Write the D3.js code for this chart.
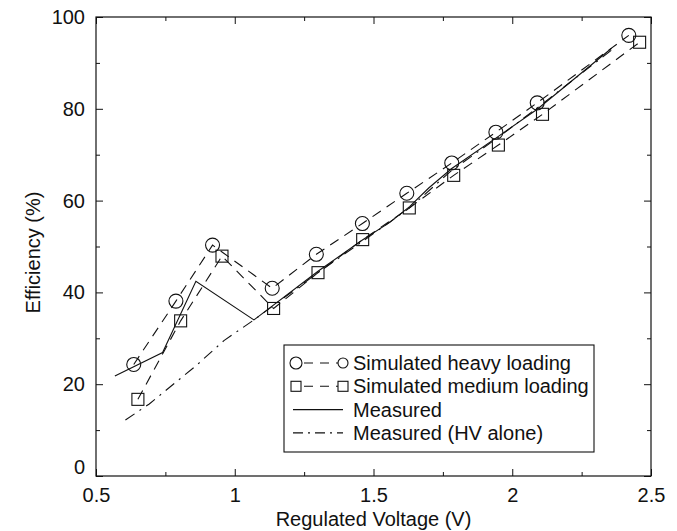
<!DOCTYPE html>
<html lang="en">
  <head>
    <meta charset="UTF-8" />
    <script src="https://d3js.org/d3.v7.min.js"></script>
    <title>Efficiency vs regulated voltage</title>
    <style>
      body { margin: 0; background: #fff; }
      text { font-family: "Liberation Sans", Arial, sans-serif; fill: #111; }
    </style>
  </head>
  <body>
    <div id="my_dataviz"></div>
    <script>
      // data
      var heavyX = [0.636, 0.788, 0.920, 1.135, 1.294, 1.460, 1.620, 1.782, 1.941, 2.090, 2.420]
      var heavyY = [24.3, 38.1, 50.3, 40.9, 48.3, 55.0, 61.6, 68.2, 74.9, 81.3, 96.0]

      var mediumX = [0.651, 0.805, 0.954, 1.140, 1.300, 1.461, 1.629, 1.789, 1.950, 2.109, 2.459]
      var mediumY = [16.7, 33.8, 47.9, 36.5, 44.3, 51.5, 58.4, 65.5, 72.1, 78.8, 94.5]

      var measuredX = [0.568, 0.740, 0.860, 1.069, 1.300, 1.460, 1.560, 1.630, 1.700, 1.782, 1.950, 2.090, 2.358]
      var measuredY = [21.8, 26.9, 42.4, 34.0, 44.6, 51.4, 55.3, 58.7, 62.8, 67.0, 74.0, 79.9, 93.2]

      var hvAloneX = [0.606, 0.692, 0.860, 0.961, 1.069, 1.300, 1.460, 1.630, 1.782, 1.950, 2.090, 2.358]
      var hvAloneY = [12.2, 15.7, 24.0, 29.5, 34.0, 44.3, 51.1, 58.4, 66.6, 73.8, 80.2, 92.8]

      var xTicks = [0.5, 1, 1.5, 2, 2.5]
      var xMinor = [0.75, 1.25, 1.75, 2.25]
      var yTicks = [0, 20, 40, 60, 80, 100]
      var yMinor = [10, 30, 50, 70, 90]

      var legendLabels = ["Simulated heavy loading", "Simulated medium loading", "Measured", "Measured (HV alone)"]

      // layout
      var width = 677, height = 531
      var margin = {left: 96, right: 26, top: 17, bottom: 55}
      var w = width - margin.left - margin.right
      var h = height - margin.top - margin.bottom

      var svg = d3.select("#my_dataviz")
        .append("svg")
          .attr("width", width)
          .attr("height", height)

      var g = svg.append("g")
        .attr("transform", "translate(" + margin.left + "," + margin.top + ")")

      var x = d3.scaleLinear().domain([0.5, 2.5]).range([0, w])
      var y = d3.scaleLinear().domain([0, 100]).range([h, 0])

      // ticks pointing inward on all four sides
      function styleAxis(sel) {
        sel.select(".domain").remove()
        sel.selectAll("line").attr("stroke", "#111")
        sel.selectAll("text").style("font-size", "20px").attr("fill", "#111")
      }

      g.append("g").attr("transform", "translate(0," + h + ")")
        .call(d3.axisBottom(x).tickValues(xTicks).tickSizeInner(-7).tickSizeOuter(0).tickPadding(12)
          .tickFormat(function(d){ return String(d) }))
        .call(styleAxis)
      g.append("g").attr("transform", "translate(0," + h + ")")
        .call(d3.axisBottom(x).tickValues(xMinor).tickSizeInner(-4).tickSizeOuter(0).tickFormat(""))
        .call(styleAxis)
      g.append("g")
        .call(d3.axisTop(x).tickValues(xTicks).tickSizeInner(-7).tickSizeOuter(0).tickFormat(""))
        .call(styleAxis)
      g.append("g")
        .call(d3.axisTop(x).tickValues(xMinor).tickSizeInner(-4).tickSizeOuter(0).tickFormat(""))
        .call(styleAxis)

      var yAxis = g.append("g")
        .call(d3.axisLeft(y).tickValues(yTicks).tickSizeInner(-7).tickSizeOuter(0).tickPadding(11))
        .call(styleAxis)
      // the 0 label sits a little higher so it clears 0.5
      yAxis.selectAll(".tick text").filter(function(d){ return d === 0 }).attr("y", -9)
      g.append("g")
        .call(d3.axisLeft(y).tickValues(yMinor).tickSizeInner(-4).tickSizeOuter(0).tickFormat(""))
        .call(styleAxis)
      g.append("g").attr("transform", "translate(" + w + ",0)")
        .call(d3.axisRight(y).tickValues(yTicks).tickSizeInner(-7).tickSizeOuter(0).tickFormat(""))
        .call(styleAxis)
      g.append("g").attr("transform", "translate(" + w + ",0)")
        .call(d3.axisRight(y).tickValues(yMinor).tickSizeInner(-4).tickSizeOuter(0).tickFormat(""))
        .call(styleAxis)

      // frame
      g.append("rect")
        .attr("x", 0).attr("y", 0).attr("width", w).attr("height", h)
        .attr("fill", "none").attr("stroke", "#111").attr("stroke-width", 1.2)

      // axis titles
      svg.append("text")
        .attr("x", margin.left + w / 2).attr("y", 526)
        .attr("text-anchor", "middle").style("font-size", "20px")
        .text("Regulated Voltage (V)")
      svg.append("text")
        .attr("transform", "translate(40," + (margin.top + h / 2 + 6) + ") rotate(-90)")
        .attr("text-anchor", "middle").style("font-size", "20px")
        .text("Efficiency (%)")

      // series
      var line = d3.line().x(function(d){ return x(d[0]) }).y(function(d){ return y(d[1]) })
      var heavy = d3.zip(heavyX, heavyY)
      var medium = d3.zip(mediumX, mediumY)
      var measured = d3.zip(measuredX, measuredY)
      var hvAlone = d3.zip(hvAloneX, hvAloneY)

      var dashed = "10,7"
      var dashDot = "11,6,2,6"

      g.append("path").datum(hvAlone).attr("d", line)
        .attr("fill", "none").attr("stroke", "#111").attr("stroke-width", 1.1).attr("stroke-dasharray", dashDot)
      g.append("path").datum(measured).attr("d", line)
        .attr("fill", "none").attr("stroke", "#111").attr("stroke-width", 1.1)
      g.append("path").datum(heavy).attr("d", line)
        .attr("fill", "none").attr("stroke", "#111").attr("stroke-width", 1.1).attr("stroke-dasharray", dashed)
      g.append("path").datum(medium).attr("d", line)
        .attr("fill", "none").attr("stroke", "#111").attr("stroke-width", 1.1).attr("stroke-dasharray", dashed)

      g.selectAll("circle.heavy").data(heavy).enter().append("circle")
        .attr("class", "heavy")
        .attr("cx", function(d){ return x(d[0]) }).attr("cy", function(d){ return y(d[1]) })
        .attr("r", 7).attr("fill", "none").attr("stroke", "#111").attr("stroke-width", 1.1)

      g.selectAll("rect.medium").data(medium).enter().append("rect")
        .attr("class", "medium")
        .attr("x", function(d){ return x(d[0]) - 6 }).attr("y", function(d){ return y(d[1]) - 6 })
        .attr("width", 12).attr("height", 12)
        .attr("fill", "none").attr("stroke", "#111").attr("stroke-width", 1.1)

      // legend
      var lg = svg.append("g").attr("transform", "translate(284,345)")
      lg.append("rect")
        .attr("width", 310).attr("height", 107)
        .attr("fill", "#fff").attr("stroke", "#111").attr("stroke-width", 1.1)

      var rowY = function(i){ return 18 + i * 23.3 }
      var x0 = 12, x1 = 59

      var rows = lg.selectAll("g.row").data(legendLabels).enter().append("g")
        .attr("class", "row")
        .attr("transform", function(d, i){ return "translate(0," + rowY(i) + ")" })

      rows.append("text")
        .attr("x", 69).attr("dy", "0.35em").style("font-size", "20px")
        .text(function(d){ return d })

      rows.append("line")
        .attr("x1", function(d, i){ return i < 2 ? x0 + 6 : 9 })
        .attr("x2", function(d, i){ return i < 2 ? x1 - 5 : x1 })
        .attr("stroke", "#111").attr("stroke-width", 1.1)
        .attr("stroke-dasharray", function(d, i){ return i === 2 ? null : (i === 3 ? "10,5,2,5" : "9,7") })
        .attr("stroke-dashoffset", function(d, i){ return i < 2 ? -2 : 0 })

      var r0 = rows.filter(function(d, i){ return i === 0 })
      r0.append("circle").attr("cx", x0).attr("r", 6)
        .attr("fill", "none").attr("stroke", "#111").attr("stroke-width", 1.1)
      r0.append("circle").attr("cx", x1).attr("r", 5)
        .attr("fill", "none").attr("stroke", "#111").attr("stroke-width", 1.1)

      var r1 = rows.filter(function(d, i){ return i === 1 })
      r1.append("rect").attr("x", x0 - 5).attr("y", -5).attr("width", 10).attr("height", 10)
        .attr("fill", "none").attr("stroke", "#111").attr("stroke-width", 1.1)
      r1.append("rect").attr("x", x1 - 5).attr("y", -5).attr("width", 10).attr("height", 10)
        .attr("fill", "none").attr("stroke", "#111").attr("stroke-width", 1.1)
    </script>
  </body>
</html>
